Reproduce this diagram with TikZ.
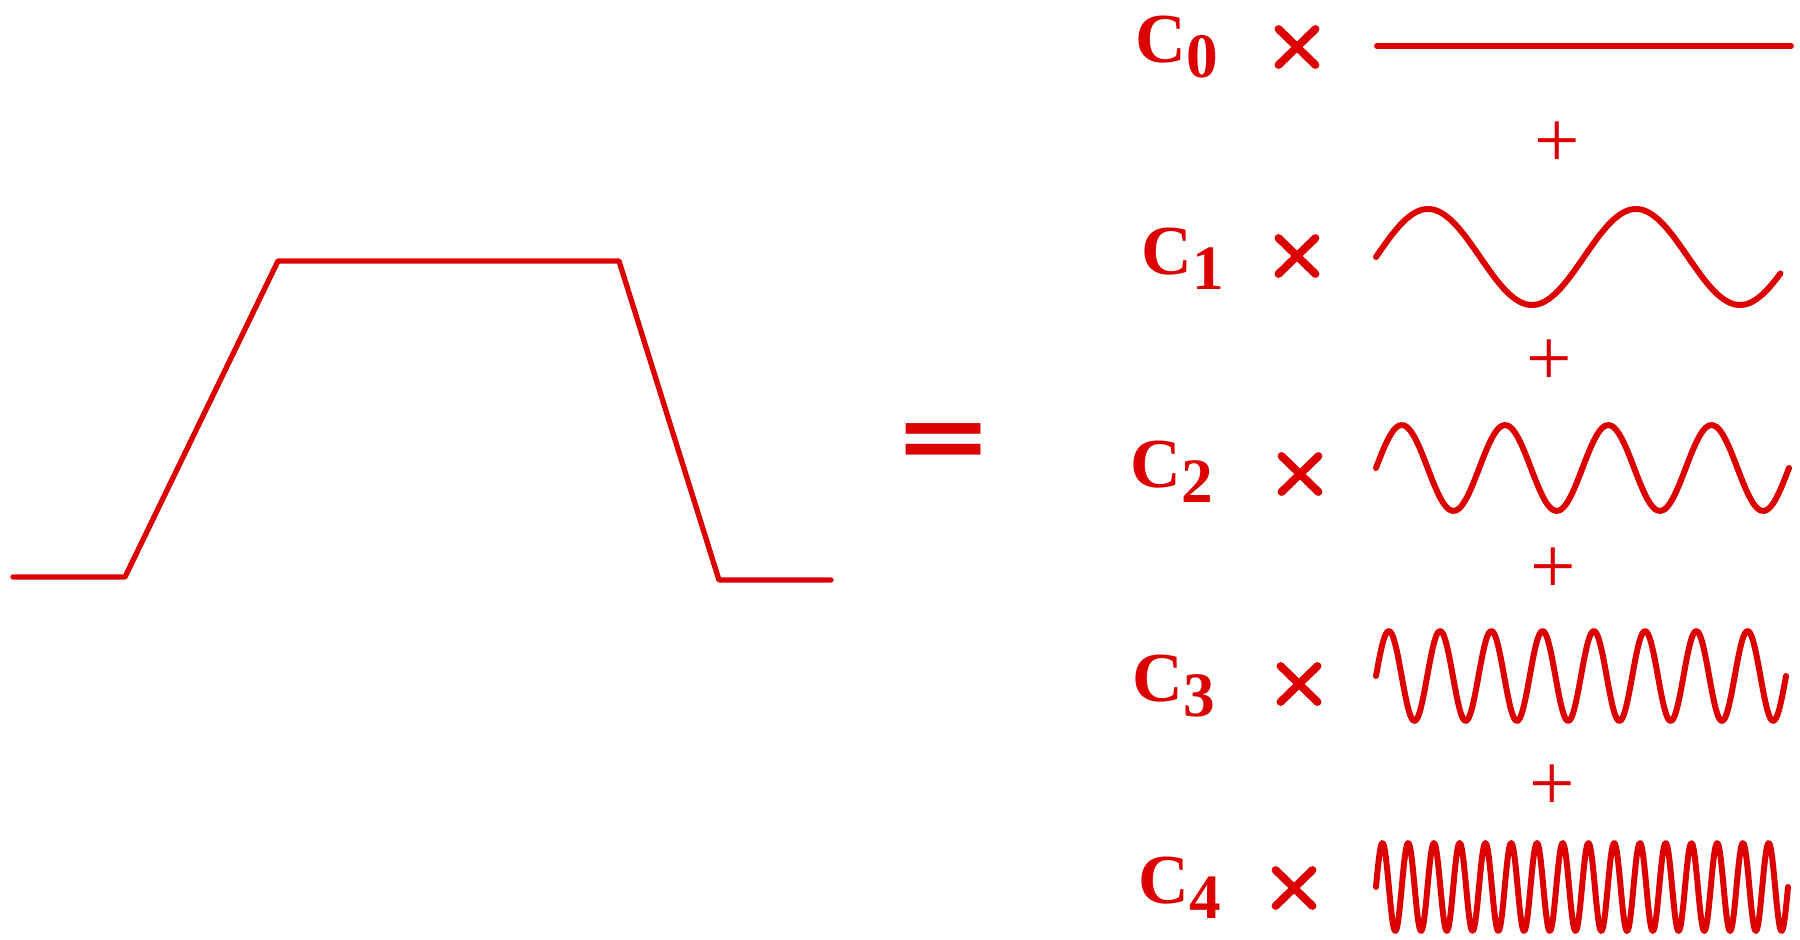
\documentclass[tikz,border=0pt]{standalone}
\usepackage{fontspec}
\setmainfont{Liberation Serif}
\newfontfamily\eqfont{DejaVu Sans}
\usetikzlibrary{shapes.misc}
\definecolor{sigred}{RGB}{221,0,0}
\newcommand{\coefsub}[1]{\raisebox{-9pt}{\fontsize{36}{36}\selectfont #1}}

\begin{document}
\begin{tikzpicture}[
    x=0.02cm, y=-0.02cm,
    pulse/.style={sigred, line width=3pt, line join=round, line cap=round},
    wave/.style={sigred, line width=3.4pt, line join=round, line cap=round},
    coef/.style={anchor=base west, inner sep=0pt, text=sigred, font=\fontsize{40}{40}\selectfont\bfseries},
    times/.style={cross out, draw=sigred, line width=4.5pt, line cap=round, minimum width=0.58cm, minimum height=0.56cm, inner sep=0pt},
    plus/.style={inner sep=0pt, text=sigred, font=\fontsize{46}{46}\selectfont}
]
\useasboundingbox (0,0) rectangle (1800,940);

% Trapezoidal pulse
\draw[pulse] (13,577) -- (125,577) -- (278,261) -- (619,261) -- (719,580) -- (831,580);
\node[inner sep=0pt, text=sigred, font=\fontsize{68}{68}\selectfont\eqfont\bfseries] (equals) at (944,446) {\scalebox{1}[0.78]{=}};

% Term 0
\node[coef] (c0) at (1135,62) {C\coefsub{0}};
\node[times] (x0) at (1297,47) {};
\draw[wave] (1377,46) -- (1791,46);
\node[plus] (p1) at (1557,145) {+};

% Term 1
\node[coef] (c1) at (1141,274) {C\coefsub{1}};
\node[times] (x1) at (1297,256) {};
\draw[wave] plot[domain=0:700, samples=80, smooth] ({1376+\x/360*208}, {257-48*sin(\x)});
\node[plus] (p2) at (1549,363) {+};

% Term 2
\node[coef] (c2) at (1130,487) {C\coefsub{2}};
\node[times] (x2) at (1300,474) {};
\draw[wave] plot[domain=0:1440, samples=120, smooth] ({1376+\x/360*103.25}, {468-43*sin(\x)});
\node[plus] (p3) at (1553,571) {+};

% Term 3
\node[coef] (c3) at (1132,701) {C\coefsub{3}};
\node[times] (x3) at (1299,684) {};
\draw[wave] plot[domain=0:2880, samples=240, smooth] ({1376+\x/360*51.25}, {676-45*sin(\x)});
\node[plus] (p4) at (1552,788) {+};

% Term 4
\node[coef] (c4) at (1138,903) {C\coefsub{4}};
\node[times] (x4) at (1294,888) {};
\draw[wave] plot[domain=0:5760, samples=400, smooth] ({1376+\x/360*25.75}, {887-44*sin(\x)});

\end{tikzpicture}
\end{document}
